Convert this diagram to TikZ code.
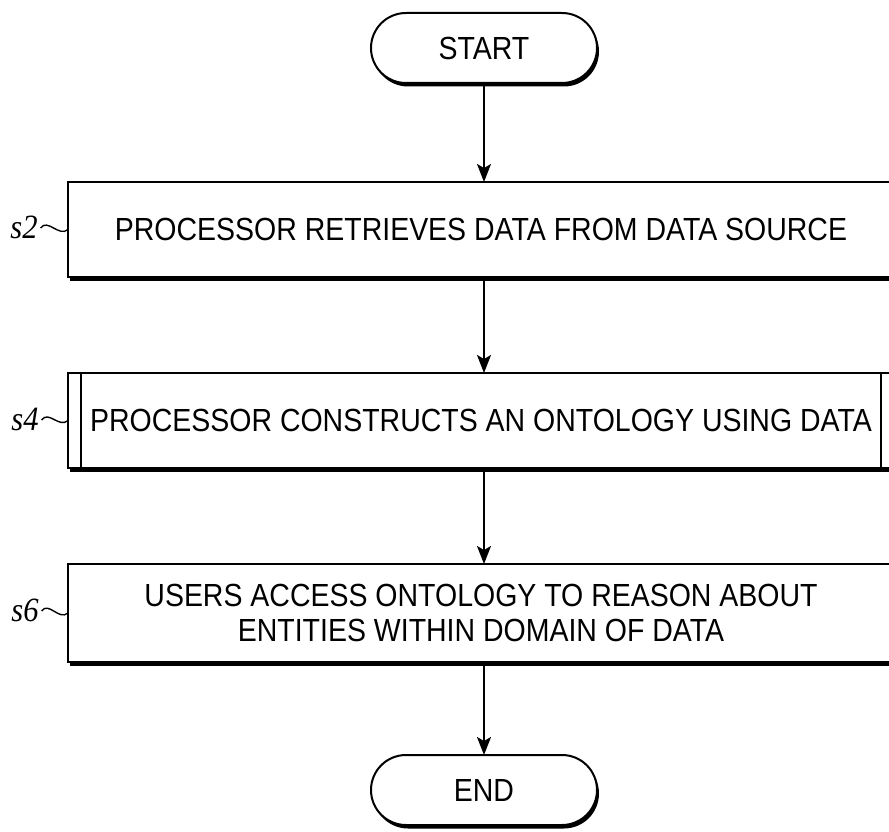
\documentclass[tikz,border=0pt]{standalone}
\usepackage{fontspec}
\setmainfont{Liberation Sans}[FakeStretch=0.89]
\newfontfamily\lblfont{Liberation Serif}[FakeStretch=0.9]
\usetikzlibrary{shapes.misc,shadows,arrows.meta,calc}
\begin{document}
\begin{tikzpicture}[x=1pt,y=-1pt,
  every node/.style={inner sep=0pt, outer sep=0pt},
  shad/.style={drop shadow={fill=black, opacity=1, shadow xshift=2pt, shadow yshift=-3.5pt}},
  term/.style={rounded rectangle, draw, line width=2pt, fill=white, shad,
    minimum width=226pt, minimum height=70pt, font=\fontsize{32}{35}\selectfont},
  stepbox/.style={rectangle, draw, line width=2pt, fill=white, shad,
    minimum width=826pt, font=\fontsize{32}{35}\selectfont, align=center},
  lbl/.style={font=\lblfont\itshape\fontsize{34}{34}\selectfont},
  arr/.style={line width=1.8pt, -{Stealth[length=18pt,width=14pt,inset=4pt]}},
  tild/.style={line width=1.4pt}
]
\useasboundingbox (0,0) rectangle (889,832);
\clip (0,0) rectangle (889,832);

\node[term] (start) at (484,48) {START};
\node[stepbox, minimum height=95pt] (s2) at (481,229.5) {PROCESSOR RETRIEVES DATA FROM DATA SOURCE};
\node[stepbox, minimum height=95pt] (s4) at (481,420.5) {PROCESSOR CONSTRUCTS AN ONTOLOGY USING DATA};
\node[stepbox, minimum height=98pt] (s6) at (481,613) {USERS ACCESS ONTOLOGY TO REASON ABOUT\\ENTITIES WITHIN DOMAIN OF DATA};
\node[term] (end) at (484,790) {END};

% inner vertical lines of the predefined-process box
\draw[line width=2pt] ($(s4.north west)+(13,0)$) -- ($(s4.south west)+(13,0)$);
\draw[line width=2pt] ($(s4.north east)+(-13,0)$) -- ($(s4.south east)+(-13,0)$);

% connectors
\draw[arr] (start.south) -- (start.south |- s2.north);
\draw[arr] (start.south |- s2.south) -- (start.south |- s4.north);
\draw[arr] (start.south |- s4.south) -- (start.south |- s6.north);
\draw[arr] (start.south |- s6.south) -- (end.north);

% step labels
\node[lbl] (l2) at (24,227) {s2};
\node[lbl] (l4) at (25,419) {s4};
\node[lbl] (l6) at (25,610) {s6};
\draw[tild] ($(l2.east)+(3,1)$) .. controls +(7,-10) and +(-9,8) .. (s2.west);
\draw[tild] ($(l4.east)+(3,1)$) .. controls +(7,-10) and +(-9,8) .. (s4.west);
\draw[tild] ($(l6.east)+(3,1)$) .. controls +(7,-10) and +(-9,8) .. (s6.west);
\end{tikzpicture}
\end{document}
